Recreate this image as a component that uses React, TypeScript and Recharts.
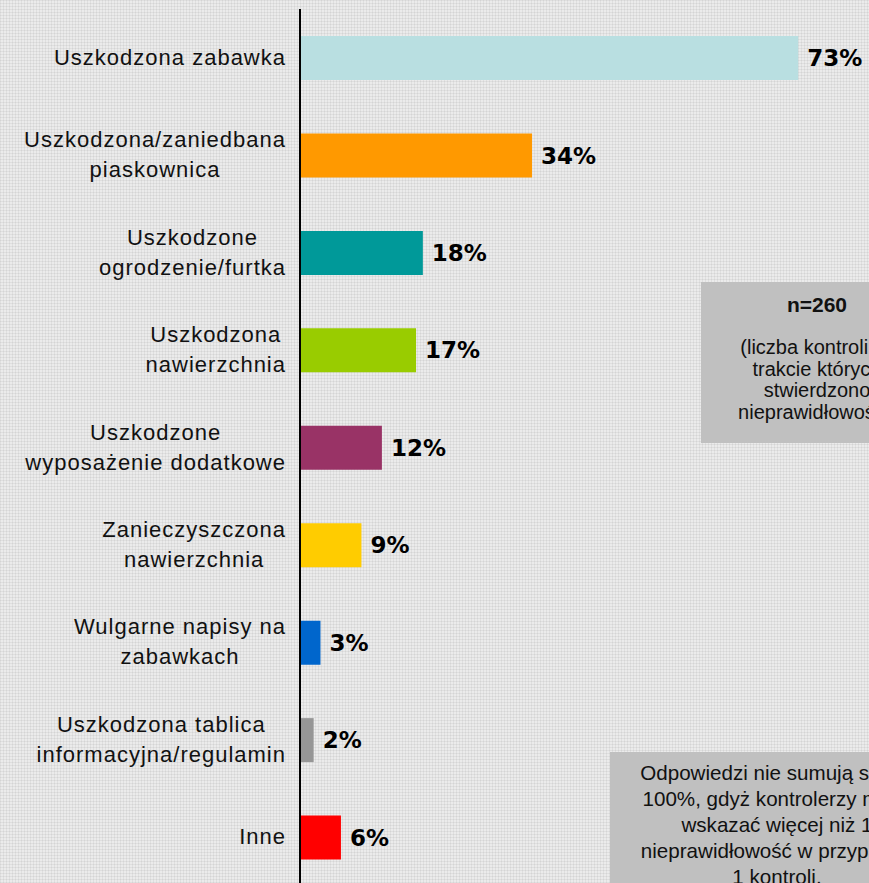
import React from "react";
import { Bar, BarChart, Cell, LabelList, XAxis, YAxis } from "recharts";

const categories = [
  "Uszkodzona zabawka",
  "Uszkodzona/zaniedbana\npiaskownica",
  "Uszkodzone\nogrodzenie/furtka",
  "Uszkodzona\nnawierzchnia",
  "Uszkodzone\nwyposażenie dodatkowe",
  "Zanieczyszczona\nnawierzchnia",
  "Wulgarne napisy na\nzabawkach",
  "Uszkodzona tablica\ninformacyjna/regulamin",
  "Inne",
];

const shares = [73, 34, 18, 17, 12, 9, 3, 2, 6];

const barColors = [
  "#b9dfe1",
  "#ff9900",
  "#009999",
  "#99cc00",
  "#993366",
  "#ffcc00",
  "#0066cc",
  "#969696",
  "#ff0000",
];

const sampleNote = ["n=260", "(liczba kontroli, w", "trakcie których", "stwierdzono", "nieprawidłowości)"];
const sumNote = [
  "Odpowiedzi nie sumują się do",
  "100%, gdyż kontrolerzy mogli",
  "wskazać więcej niż 1",
  "nieprawidłowość w przypadku",
  "1 kontroli.",
];

const data = categories.map((name, i) => ({ name, value: shares[i] }));

const CategoryTick = ({ y, payload }: any) => {
  const lines = String(payload.value).split("\n");
  return (
    <foreignObject x={0} y={y - 45} width={286} height={90}>
      <div
        style={{
          height: 90,
          display: "flex",
          alignItems: "center",
          justifyContent: "flex-end",
        }}
      >
        <div
          style={{
            textAlign: "center",
            fontFamily: "'Liberation Sans', Arial, sans-serif",
            fontSize: 22,
            letterSpacing: "1px",
            lineHeight: "30px",
            color: "#111",
            whiteSpace: "nowrap",
          }}
        >
          {lines.map((l, k) => (
            <div key={k}>{l}</div>
          ))}
        </div>
      </div>
    </foreignObject>
  );
};

const boxText: React.CSSProperties = {
  position: "absolute",
  background: "#c0c0c0",
  fontFamily: "'Liberation Sans', Arial, sans-serif",
  color: "#111",
  textAlign: "center",
  whiteSpace: "nowrap",
};

export default function App() {
  return (
    <div
      style={{
        position: "absolute",
        left: 0,
        top: 0,
        width: 869,
        height: 883,
        overflow: "hidden",
        backgroundColor: "#ebebeb",
        backgroundImage:
          "repeating-linear-gradient(0deg, rgba(0,0,0,0.05) 0 1px, transparent 1px 3px), repeating-linear-gradient(90deg, rgba(0,0,0,0.05) 0 1px, transparent 1px 3px)",
      }}
    >
      <BarChart
        width={869}
        height={890}
        data={data}
        layout="vertical"
        margin={{ top: 9, right: 23, bottom: 4, left: 0 }}
        barSize={44}
      >
        <XAxis type="number" domain={[0, 80]} hide />
        <YAxis
          type="category"
          dataKey="name"
          width={300}
          axisLine={{ stroke: "#000", strokeWidth: 2 }}
          tickLine={false}
          tick={<CategoryTick />}
          interval={0}
        />
        <Bar dataKey="value" isAnimationActive={false}>
          {data.map((d, i) => (
            <Cell key={d.name} fill={barColors[i]} />
          ))}
          <LabelList
            dataKey="value"
            position="right"
            offset={9}
            formatter={(v: any) => `${v}%`}
            style={{
              fontFamily: "'DejaVu Sans', Verdana, sans-serif",
              fontWeight: "bold",
              fontSize: 23,
              fill: "#000",
            }}
          />
        </Bar>
      </BarChart>

      <div style={{ ...boxText, left: 701, top: 282, width: 232, height: 161 }}>
        <div style={{ fontWeight: "bold", fontSize: 21, lineHeight: "24px", marginTop: 11 }}>
          {sampleNote[0]}
        </div>
        <div style={{ fontSize: 20, lineHeight: "21.5px", marginTop: 20 }}>
          {sampleNote.slice(1).map((l) => (
            <div key={l}>{l}</div>
          ))}
        </div>
      </div>

      <div style={{ ...boxText, left: 610, top: 752, width: 334, height: 160, fontSize: 20.6, lineHeight: "26px", paddingTop: 8 }}>
        {sumNote.map((l) => (
          <div key={l}>{l}</div>
        ))}
      </div>
    </div>
  );
}
